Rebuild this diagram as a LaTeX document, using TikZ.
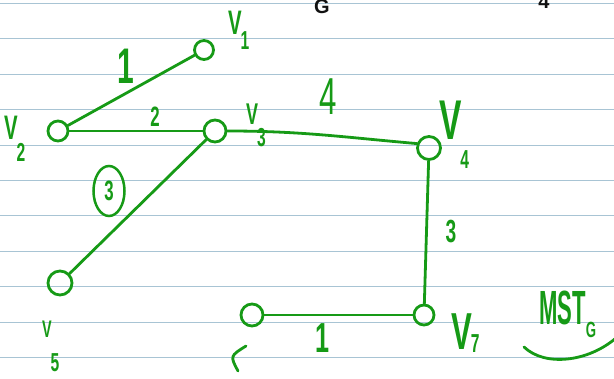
\documentclass[tikz,border=0pt]{standalone}
\usepackage{fontspec}
\setmainfont{Liberation Sans}
\usetikzlibrary{positioning, calc, shapes.geometric}
\definecolor{Ink}     {HTML}{169A16}
\definecolor{Ruling}  {HTML}{A8C4D4}
\definecolor{Pencil}  {HTML}{111111}
\newcommand{\hand}[1]{\scalebox{0.6}[1]{#1}}
\newcommand{\vname}[2][15pt]{\hand{V\kern-2pt\raisebox{-#1}{\fontsize{26}{26}\selectfont #2}}}

\begin{document}
\begin{tikzpicture}[
  x=1pt, y=-1pt,
  ruling/.style={draw=Ruling, line width=1pt},
  vtx/.style={circle, draw=Ink, line width=2.8pt, minimum size=20pt, inner sep=0pt},
  wire/.style={draw=Ink, line width=2.8pt, line cap=round},
  vlab/.style={text=Ink, inner sep=0pt, anchor=base west, font={\fontsize{32}{32}\selectfont\bfseries}},
  wlab/.style={text=Ink, inner sep=0pt, font={\fontsize{30}{30}\selectfont\bfseries}},
]
  \useasboundingbox[fill=white] (0,0) rectangle (614,379);

  % lined paper
  \foreach \k in {0,...,10}
    \draw[ruling] (0,{3.5+35.4*\k}) -- (614,{3.5+35.4*\k});

  % marks cut off at the top edge
  \node[text=Pencil, anchor=south, inner sep=0pt, font={\fontsize{20}{20}\selectfont\bfseries}] (topg) at (322,14) {G};
  \node[text=Pencil, anchor=south, inner sep=0pt, font={\fontsize{20}{20}\selectfont\bfseries}] (topf) at (544,9) {4};

  % vertices
  \node[vtx, minimum size=19pt] (v1) at (204,50)  {};
  \node[vtx]                    (v2) at (58,131)  {};
  \node[vtx, minimum size=22pt] (v3) at (215,131) {};
  \node[vtx, minimum size=23pt] (v4) at (429,148) {};
  \node[vtx, minimum size=24pt] (v5) at (60,283)  {};
  \node[vtx, minimum size=22pt] (v6) at (252,315) {};
  \node[vtx, minimum size=20pt] (v7) at (424,315) {};

  % vertex labels
  \node[vlab, font={\fontsize{34}{34}\selectfont\bfseries}] (n1) at (228,35)  {\vname[15pt]{1}};
  \node[vlab, font={\fontsize{34}{34}\selectfont\bfseries}] (n2) at (4,140)   {\vname[22pt]{2}};
  \node[vlab, font={\fontsize{30}{30}\selectfont\bfseries}] (n3) at (246,125) {\vname[22pt]{3}};
  \node[vlab, font={\fontsize{56}{56}\selectfont\bfseries}] (n4) at (439,140) {\vname[29pt]{4}};
  \node[vlab, font={\fontsize{24}{24}\selectfont\bfseries}] (n5) at (42,338)  {\vname[34pt]{5}};
  \node[vlab, font={\fontsize{52}{52}\selectfont\bfseries}] (n7) at (451,350) {\vname[3pt]{7}};
  \draw[wire] (246,346) .. controls (230,356) .. (238,371);

  % edges
  \draw[wire] (v1) -- (v2);
  \draw[wire] (v2) -- (v3);
  \draw[wire] (v3.east) to[out=0, in=175] (v4.160);
  \draw[wire] (v4) -- (v7);
  \draw[wire] (v6) -- (v7);
  \draw[wire] (v3) -- (v5);

  % edge weights
  \node[wlab, font={\fontsize{50}{50}\selectfont\bfseries}] (w12) at (126,66)  {\hand{1}};
  \node[wlab, font={\fontsize{28}{28}\selectfont\bfseries}] (w23) at (155,117) {\hand{2}};
  \node[wlab, font={\fontsize{52}{52}\selectfont}]          (w34) at (328,97)  {\hand{4}};
  \node[wlab, font={\fontsize{32}{32}\selectfont\bfseries}] (w47) at (451,232) {\hand{3}};
  \node[wlab, font={\fontsize{42}{42}\selectfont\bfseries}] (w67) at (323,338) {\hand{1}};
  \node[wlab, ellipse, draw=Ink, line width=2.5pt, minimum width=31pt, minimum height=50pt,
        font={\fontsize{28}{28}\selectfont\bfseries}] (w35) at (109,191) {\hand{3}};

  % caption
  \node[text=Ink, inner sep=0pt, anchor=base west, font={\fontsize{48}{48}\selectfont\bfseries}] (mst) at (539,325)
    {\scalebox{0.46}[1]{MST}\raisebox{-13pt}{\fontsize{22}{22}\selectfont\bfseries\hand{G}}};
  \draw[wire] (524,347) .. controls (545,367) and (588,362) .. (616,338);
\end{tikzpicture}
\end{document}
